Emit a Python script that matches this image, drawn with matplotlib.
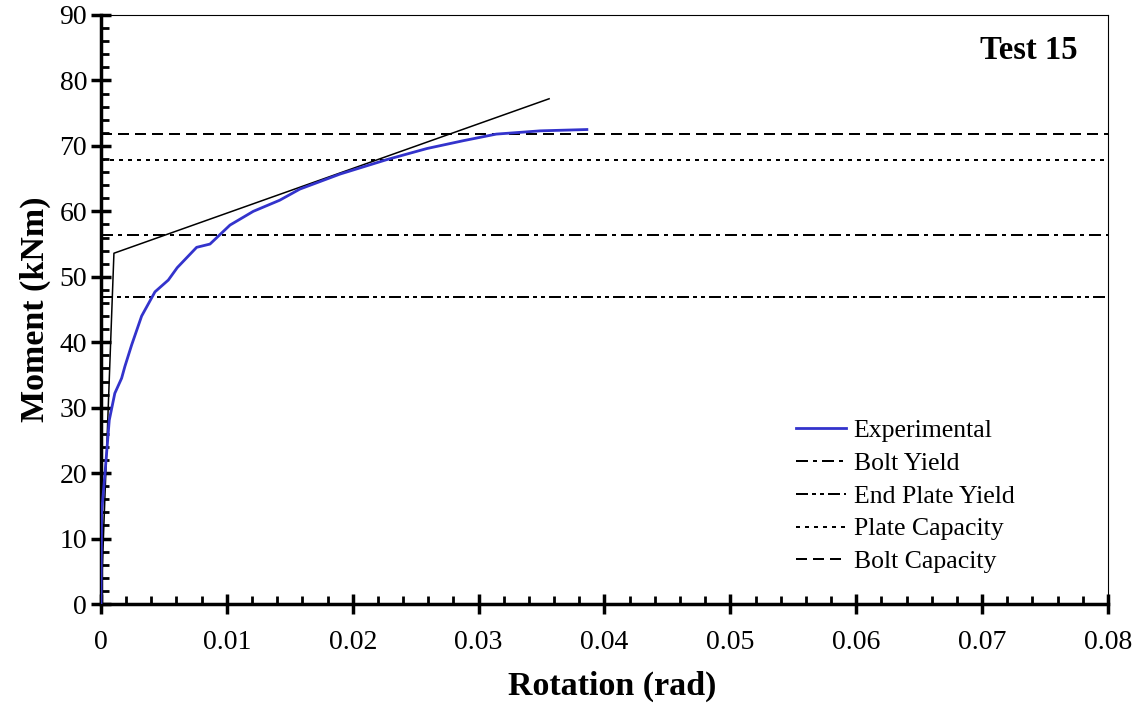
import matplotlib
matplotlib.use("Agg")
import matplotlib.pyplot as plt
from matplotlib.ticker import MultipleLocator

plt.rcParams['font.family'] = ['Liberation Serif', 'DejaVu Serif']

# Experimental curve
exp_rot = [0.0, 0.00005, 0.00032, 0.00066, 0.0011, 0.00164, 0.0019, 0.00244, 0.00323,
           0.00429, 0.00535, 0.00606, 0.0076, 0.00866, 0.01025, 0.0121, 0.0142, 0.0158,
           0.019, 0.0227, 0.0259, 0.0288, 0.0314, 0.0349, 0.0386]
exp_mom = [0.0, 13.9, 20.0, 28.1, 32.2, 34.5, 36.3, 39.6, 44.0,
           47.7, 49.5, 51.4, 54.5, 55.0, 57.9, 60.0, 61.7, 63.4,
           65.7, 67.9, 69.6, 70.8, 71.8, 72.3, 72.5]

# Bilinear model line
model_rot = [0.0, 0.00103, 0.0356]
model_mom = [0.0, 53.6, 77.2]

# Horizontal capacity levels
bolt_yield = 56.4
end_plate_yield = 46.9
plate_capacity = 67.85
bolt_capacity = 71.8

fig = plt.figure(figsize=(11.37, 7.04), dpi=100)
ax = fig.add_axes([0.0888, 0.142, 0.8857, 0.8367])

hw = 1.44
ax.plot(model_rot, model_mom, color='black', lw=1.1, zorder=2)
l_exp, = ax.plot(exp_rot, exp_mom, color='#3333CC', lw=2.0, zorder=3, label='Experimental')
l_by = ax.axhline(bolt_yield, color='black', lw=hw, dashes=(6, 2.5, 2, 2.5), label='Bolt Yield')
l_epy = ax.axhline(end_plate_yield, color='black', lw=hw, dashes=(6, 2, 2, 2, 2, 2), label='End Plate Yield')
l_pc = ax.axhline(plate_capacity, color='black', lw=hw, dashes=(2, 2.5), label='Plate Capacity')
l_bc = ax.axhline(bolt_capacity, color='black', lw=hw, dashes=(5.5, 3), label='Bolt Capacity')

ax.set_xlim(0, 0.08)
ax.set_ylim(0, 90)
ax.xaxis.set_major_locator(MultipleLocator(0.01))
ax.xaxis.set_minor_locator(MultipleLocator(0.002))
ax.yaxis.set_major_locator(MultipleLocator(10))
ax.yaxis.set_minor_locator(MultipleLocator(2))
ax.set_xticks([0, 0.01, 0.02, 0.03, 0.04, 0.05, 0.06, 0.07, 0.08])
ax.set_xticklabels(['0', '0.01', '0.02', '0.03', '0.04', '0.05', '0.06', '0.07', '0.08'])

ax.tick_params(which='major', direction='inout', length=14, width=2.5, labelsize=20, pad=3)
ax.tick_params(which='minor', direction='in', length=6, width=2.0)
ax.tick_params(axis='x', which='major', pad=12)

for s in ['left', 'bottom']:
    ax.spines[s].set_linewidth(2.5)
for s in ['top', 'right']:
    ax.spines[s].set_linewidth(0.8)

ax.set_xlabel('Rotation (rad)', fontsize=24.5, fontweight='bold', labelpad=11)
ax.xaxis.label.set_x(0.508)
ax.set_ylabel('Moment (kNm)', fontsize=24.5, fontweight='bold', labelpad=6)

ax.text(0.97, 0.94, 'Test 15', transform=ax.transAxes, ha='right', va='center',
        fontsize=23.5, fontweight='bold')

leg = ax.legend(handles=[l_exp, l_by, l_epy, l_pc, l_bc], loc='lower right',
                bbox_to_anchor=(0.93, 0.013), frameon=False, fontsize=18.5,
                handlelength=1.95, handletextpad=0.3, labelspacing=0.38)

fig.savefig('out.png', dpi=100)
